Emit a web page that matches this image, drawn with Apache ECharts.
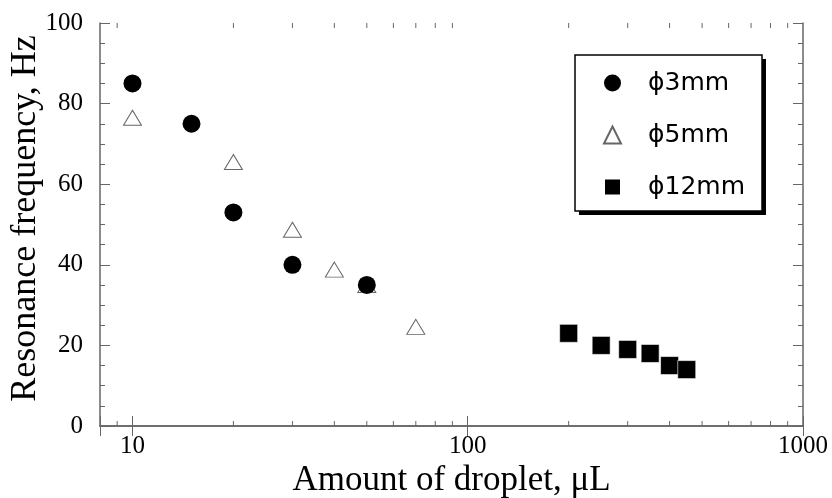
<!DOCTYPE html>
<html><head><meta charset="utf-8">
<script src="https://cdn.jsdelivr.net/npm/echarts@6/dist/echarts.min.js"></script>
<style>html,body{margin:0;padding:0;background:#fff}#c{width:832px;height:498px}</style>
</head><body><div id="c"></div>
<script>
// Data
const names = ['\u03d53mm', '\u03d55mm', '\u03d512mm'];
const d3x = [10, 15, 20, 30, 50];
const d3y = [85, 75, 53, 40, 35];
const d5x = [10, 20, 30, 40, 50, 70];
const d5y = [76.5, 65.5, 48.7, 38.8, 35, 24.6];
const d12x = [200, 250, 300, 350, 400, 450];
const d12y = [23, 20, 19, 18, 15, 14];
const xLabels = [10, 100, 1000];
const xMinorTicks = [9, 20, 30, 40, 50, 60, 70, 80, 90, 200, 300, 400, 500, 600, 700, 800, 900];
const yTicks = [0, 20, 40, 60, 80, 100];

const zip = (xs, ys) => xs.map((x, i) => [x, ys[i]]);
const axisColor = '#666';
const serif = 'Liberation Serif';

const chart = echarts.init(document.getElementById('c'), null, {renderer: 'canvas'});
const xBase = {
  type: 'log', logBase: 10, min: 8, max: 1000,
  axisLine: {show: true, lineStyle: {color: axisColor, width: 1.5}},
  axisTick: {show: true, inside: true, length: 10, lineStyle: {color: axisColor, width: 1}},
  splitLine: {show: false}
};
const yBase = {
  type: 'value', min: yTicks[0], max: yTicks[yTicks.length - 1], interval: 20,
  axisLine: {show: true, lineStyle: {color: axisColor, width: 1.5}},
  axisTick: {show: true, inside: true, length: 10, lineStyle: {color: axisColor, width: 1}},
  minorTick: {show: true, splitNumber: 4, length: 5, lineStyle: {color: axisColor, width: 1}},
  splitLine: {show: false}
};
chart.setOption({
  animation: false,
  backgroundColor: '#fff',
  grid: {left: 100, right: 29, top: 23, bottom: 72, containLabel: false, outerBoundsMode: 'none'},
  graphic: [
    {type: 'rect', z: 5, shape: {x: 579, y: 59, width: 187, height: 156}, style: {fill: '#000'}, silent: true},
    {type: 'rect', z: 6, shape: {x: 575, y: 55, width: 187, height: 156}, style: {fill: '#fff', stroke: '#000', lineWidth: 1.5}, silent: true}
  ],
  xAxis: [
    Object.assign({}, xBase, {
      position: 'bottom',
      name: 'Amount of droplet, \u03bcL', nameLocation: 'middle', nameGap: 37, nameMoveOverlap: false,
      nameTextStyle: {fontFamily: serif, fontSize: 35, color: '#000'},
      axisLabel: {show: true, margin: 8, fontFamily: serif, fontSize: 25, color: '#000',
        formatter: v => xLabels.some(t => Math.abs(t - v) < 1e-6) ? String(v) : ''}
    }),
    Object.assign({}, xBase, {position: 'top', axisLabel: {show: false}})
  ],
  yAxis: [
    Object.assign({}, yBase, {
      position: 'left',
      name: 'Resonance frequency, Hz', nameLocation: 'middle', nameGap: 56, nameMoveOverlap: false,
      nameTextStyle: {fontFamily: serif, fontSize: 36, color: '#000', padding: [0, 0, 0, 12]},
      axisLabel: {show: true, margin: 17, fontFamily: serif, fontSize: 25, color: '#000'}
    }),
    Object.assign({}, yBase, {position: 'right', axisLabel: {show: false}})
  ],
  legend: {
    data: names,
    orient: 'vertical', left: 603, top: 68, z: 10,
    padding: 0,
    itemWidth: 17, itemHeight: 17, itemGap: 22,
    textStyle: {fontFamily: 'DejaVu Sans', fontSize: 25, color: '#000', lineHeight: 30, padding: [0, 0, 0, 22]}
  },
  series: [
    {
      type: 'custom', xAxisIndex: 0, yAxisIndex: 0, silent: true, z: 1,
      data: xMinorTicks.map(v => [v, 0]),
      encode: {x: 0, y: 1},
      renderItem: function (params, api) {
        const v = api.value(0);
        const b = api.coord([v, yTicks[0]]);
        const t = api.coord([v, yTicks[yTicks.length - 1]]);
        return {type: 'group', children: [
          {type: 'line', shape: {x1: b[0], y1: b[1], x2: b[0], y2: b[1] - 5}, style: {stroke: axisColor, lineWidth: 1}},
          {type: 'line', shape: {x1: t[0], y1: t[1], x2: t[0], y2: t[1] + 5}, style: {stroke: axisColor, lineWidth: 1}}
        ]};
      }
    },
    {
      name: names[1], type: 'scatter', data: zip(d5x, d5y), z: 3,
      symbol: 'triangle', symbolSize: [18, 15],
      itemStyle: {color: '#fff', borderColor: '#666', borderWidth: 1, opacity: 1}
    },
    {
      name: names[0], type: 'scatter', data: zip(d3x, d3y), z: 4,
      symbol: 'circle', symbolSize: 18,
      itemStyle: {color: '#000', opacity: 1}
    },
    {
      name: names[2], type: 'scatter', data: zip(d12x, d12y), z: 4,
      symbol: 'rect', symbolSize: 18,
      itemStyle: {color: '#000', borderColor: '#fff', borderWidth: 0.6, opacity: 1}
    }
  ]
});
</script></body></html>
